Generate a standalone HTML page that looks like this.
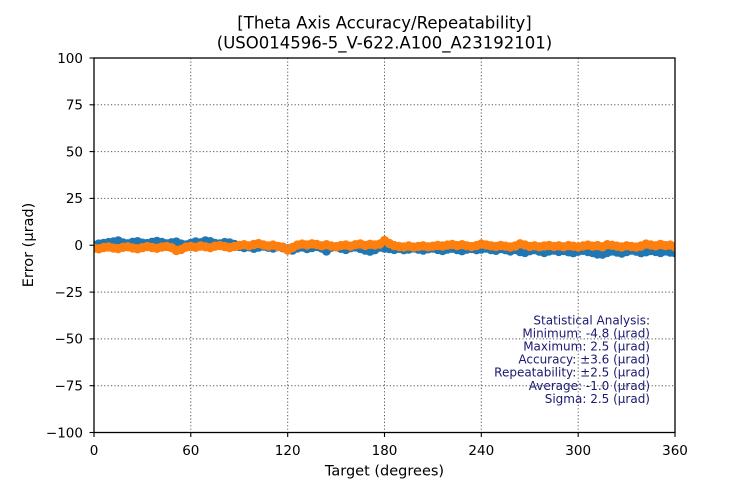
<!DOCTYPE html>
<html>
<head>
<meta charset="utf-8">
<style>
html,body{margin:0;padding:0;background:#fff;}
svg{display:block;}
text{font-family:"DejaVu Sans","Liberation Sans",sans-serif;}
</style>
</head>
<body>
<svg width="750" height="485" viewBox="0 0 750 485" xmlns="http://www.w3.org/2000/svg">
<defs>
<clipPath id="c"><rect x="94" y="58" width="581" height="374.5"/></clipPath>
</defs>
<rect width="750" height="485" fill="#fff"/>
<text x="384.5" y="28.5" font-size="16.5" text-anchor="middle" fill="#000">[Theta Axis Accuracy/Repeatability]</text>
<text x="384.5" y="48.5" font-size="16.5" text-anchor="middle" fill="#000">(USO014596-5_V-622.A100_A23192101)</text>

<g stroke="#555" stroke-width="1" stroke-dasharray="1.2,2.2" fill="none">
<line x1="190.8" y1="58" x2="190.8" y2="432.5"/>
<line x1="287.7" y1="58" x2="287.7" y2="432.5"/>
<line x1="384.5" y1="58" x2="384.5" y2="432.5"/>
<line x1="481.3" y1="58" x2="481.3" y2="432.5"/>
<line x1="578.2" y1="58" x2="578.2" y2="432.5"/>
<line x1="94" y1="104.8" x2="675" y2="104.8"/>
<line x1="94" y1="151.6" x2="675" y2="151.6"/>
<line x1="94" y1="198.4" x2="675" y2="198.4"/>
<line x1="94" y1="245.25" x2="675" y2="245.25"/>
<line x1="94" y1="292.1" x2="675" y2="292.1"/>
<line x1="94" y1="338.9" x2="675" y2="338.9"/>
<line x1="94" y1="385.7" x2="675" y2="385.7"/>
</g>

<g clip-path="url(#c)">
<polyline fill="none" stroke="#1f77b4" stroke-width="1.5" points="94.0,245.3 98.8,244.1 103.7,243.4 108.5,242.6 113.4,241.9 118.2,240.9 123.1,243.0 127.9,243.8 132.7,242.3 137.6,241.7 142.4,243.2 147.3,243.6 152.1,242.3 156.9,241.5 161.8,242.4 166.6,243.8 171.5,242.8 176.3,242.1 181.2,244.1 186.0,244.9 190.8,243.4 195.7,241.9 200.5,242.8 205.4,240.9 210.2,241.7 215.0,243.4 219.9,243.9 224.7,242.6 229.6,243.0 234.4,244.5 239.3,246.4 244.1,247.5 248.9,246.8 253.8,248.3 258.6,247.1 263.5,246.0 268.3,247.3 273.1,248.1 278.0,246.6 282.8,247.7 287.7,249.0 292.5,250.1 297.4,247.9 302.2,246.9 307.0,248.6 311.9,247.5 316.7,246.4 321.6,247.9 326.4,250.9 331.2,247.3 336.1,246.8 340.9,248.3 345.8,249.4 350.6,247.7 355.5,246.9 360.3,248.4 365.1,250.1 370.0,251.2 374.8,249.7 379.7,247.1 384.5,248.1 389.3,248.6 394.2,249.4 399.0,248.3 403.9,249.7 408.7,249.0 413.6,247.9 418.4,249.2 423.2,250.1 428.1,248.8 432.9,248.1 437.8,249.4 442.6,250.5 447.4,249.0 452.3,248.3 457.1,249.6 462.0,250.7 466.8,249.2 471.7,248.4 476.5,249.7 481.3,249.0 486.2,248.1 491.0,249.6 495.9,250.3 500.7,248.6 505.5,249.7 510.4,250.9 515.2,249.4 520.1,251.6 524.9,252.4 529.8,250.7 534.6,249.7 539.4,251.2 544.3,252.4 549.1,250.9 554.0,250.1 558.8,251.4 563.6,250.5 568.5,251.8 573.3,252.7 578.2,251.2 583.0,250.3 587.9,251.6 592.7,252.6 597.5,253.9 602.4,254.2 607.2,252.4 612.1,250.9 616.9,252.0 621.7,253.1 626.6,251.6 631.4,250.1 636.3,251.2 641.1,252.7 646.0,251.8 650.8,250.5 655.6,251.4 660.5,252.6 665.3,250.9 670.2,252.0 675.0,252.7"/>
<g fill="#1f77b4">
<circle cx="94.0" cy="245.3" r="4.7"/><circle cx="98.8" cy="244.1" r="4.7"/><circle cx="103.7" cy="243.4" r="4.7"/><circle cx="108.5" cy="242.6" r="4.7"/><circle cx="113.4" cy="241.9" r="4.7"/><circle cx="118.2" cy="240.9" r="4.7"/><circle cx="123.1" cy="243.0" r="4.7"/><circle cx="127.9" cy="243.8" r="4.7"/><circle cx="132.7" cy="242.3" r="4.7"/><circle cx="137.6" cy="241.7" r="4.7"/><circle cx="142.4" cy="243.2" r="4.7"/><circle cx="147.3" cy="243.6" r="4.7"/><circle cx="152.1" cy="242.3" r="4.7"/><circle cx="156.9" cy="241.5" r="4.7"/><circle cx="161.8" cy="242.4" r="4.7"/><circle cx="166.6" cy="243.8" r="4.7"/><circle cx="171.5" cy="242.8" r="4.7"/><circle cx="176.3" cy="242.1" r="4.7"/><circle cx="181.2" cy="244.1" r="4.7"/><circle cx="186.0" cy="244.9" r="4.7"/><circle cx="190.8" cy="243.4" r="4.7"/><circle cx="195.7" cy="241.9" r="4.7"/><circle cx="200.5" cy="242.8" r="4.7"/><circle cx="205.4" cy="240.9" r="4.7"/><circle cx="210.2" cy="241.7" r="4.7"/><circle cx="215.0" cy="243.4" r="4.7"/><circle cx="219.9" cy="243.9" r="4.7"/><circle cx="224.7" cy="242.6" r="4.7"/><circle cx="229.6" cy="243.0" r="4.7"/><circle cx="234.4" cy="244.5" r="4.7"/><circle cx="239.3" cy="246.4" r="4.7"/><circle cx="244.1" cy="247.5" r="4.7"/><circle cx="248.9" cy="246.8" r="4.7"/><circle cx="253.8" cy="248.3" r="4.7"/><circle cx="258.6" cy="247.1" r="4.7"/><circle cx="263.5" cy="246.0" r="4.7"/><circle cx="268.3" cy="247.3" r="4.7"/><circle cx="273.1" cy="248.1" r="4.7"/><circle cx="278.0" cy="246.6" r="4.7"/><circle cx="282.8" cy="247.7" r="4.7"/><circle cx="287.7" cy="249.0" r="4.7"/><circle cx="292.5" cy="250.1" r="4.7"/><circle cx="297.4" cy="247.9" r="4.7"/><circle cx="302.2" cy="246.9" r="4.7"/><circle cx="307.0" cy="248.6" r="4.7"/><circle cx="311.9" cy="247.5" r="4.7"/><circle cx="316.7" cy="246.4" r="4.7"/><circle cx="321.6" cy="247.9" r="4.7"/><circle cx="326.4" cy="250.9" r="4.7"/><circle cx="331.2" cy="247.3" r="4.7"/><circle cx="336.1" cy="246.8" r="4.7"/><circle cx="340.9" cy="248.3" r="4.7"/><circle cx="345.8" cy="249.4" r="4.7"/><circle cx="350.6" cy="247.7" r="4.7"/><circle cx="355.5" cy="246.9" r="4.7"/><circle cx="360.3" cy="248.4" r="4.7"/><circle cx="365.1" cy="250.1" r="4.7"/><circle cx="370.0" cy="251.2" r="4.7"/><circle cx="374.8" cy="249.7" r="4.7"/><circle cx="379.7" cy="247.1" r="4.7"/><circle cx="384.5" cy="248.1" r="4.7"/><circle cx="389.3" cy="248.6" r="4.7"/><circle cx="394.2" cy="249.4" r="4.7"/><circle cx="399.0" cy="248.3" r="4.7"/><circle cx="403.9" cy="249.7" r="4.7"/><circle cx="408.7" cy="249.0" r="4.7"/><circle cx="413.6" cy="247.9" r="4.7"/><circle cx="418.4" cy="249.2" r="4.7"/><circle cx="423.2" cy="250.1" r="4.7"/><circle cx="428.1" cy="248.8" r="4.7"/><circle cx="432.9" cy="248.1" r="4.7"/><circle cx="437.8" cy="249.4" r="4.7"/><circle cx="442.6" cy="250.5" r="4.7"/><circle cx="447.4" cy="249.0" r="4.7"/><circle cx="452.3" cy="248.3" r="4.7"/><circle cx="457.1" cy="249.6" r="4.7"/><circle cx="462.0" cy="250.7" r="4.7"/><circle cx="466.8" cy="249.2" r="4.7"/><circle cx="471.7" cy="248.4" r="4.7"/><circle cx="476.5" cy="249.7" r="4.7"/><circle cx="481.3" cy="249.0" r="4.7"/><circle cx="486.2" cy="248.1" r="4.7"/><circle cx="491.0" cy="249.6" r="4.7"/><circle cx="495.9" cy="250.3" r="4.7"/><circle cx="500.7" cy="248.6" r="4.7"/><circle cx="505.5" cy="249.7" r="4.7"/><circle cx="510.4" cy="250.9" r="4.7"/><circle cx="515.2" cy="249.4" r="4.7"/><circle cx="520.1" cy="251.6" r="4.7"/><circle cx="524.9" cy="252.4" r="4.7"/><circle cx="529.8" cy="250.7" r="4.7"/><circle cx="534.6" cy="249.7" r="4.7"/><circle cx="539.4" cy="251.2" r="4.7"/><circle cx="544.3" cy="252.4" r="4.7"/><circle cx="549.1" cy="250.9" r="4.7"/><circle cx="554.0" cy="250.1" r="4.7"/><circle cx="558.8" cy="251.4" r="4.7"/><circle cx="563.6" cy="250.5" r="4.7"/><circle cx="568.5" cy="251.8" r="4.7"/><circle cx="573.3" cy="252.7" r="4.7"/><circle cx="578.2" cy="251.2" r="4.7"/><circle cx="583.0" cy="250.3" r="4.7"/><circle cx="587.9" cy="251.6" r="4.7"/><circle cx="592.7" cy="252.6" r="4.7"/><circle cx="597.5" cy="253.9" r="4.7"/><circle cx="602.4" cy="254.2" r="4.7"/><circle cx="607.2" cy="252.4" r="4.7"/><circle cx="612.1" cy="250.9" r="4.7"/><circle cx="616.9" cy="252.0" r="4.7"/><circle cx="621.7" cy="253.1" r="4.7"/><circle cx="626.6" cy="251.6" r="4.7"/><circle cx="631.4" cy="250.1" r="4.7"/><circle cx="636.3" cy="251.2" r="4.7"/><circle cx="641.1" cy="252.7" r="4.7"/><circle cx="646.0" cy="251.8" r="4.7"/><circle cx="650.8" cy="250.5" r="4.7"/><circle cx="655.6" cy="251.4" r="4.7"/><circle cx="660.5" cy="252.6" r="4.7"/><circle cx="665.3" cy="250.9" r="4.7"/><circle cx="670.2" cy="252.0" r="4.7"/><circle cx="675.0" cy="252.7" r="4.7"/>
</g>
<polyline fill="none" stroke="#ff7f0e" stroke-width="1.5" points="94.0,248.3 98.8,248.8 103.7,247.5 108.5,246.9 113.4,248.1 118.2,248.6 123.1,247.3 127.9,246.8 132.7,247.9 137.6,248.8 142.4,247.7 147.3,246.6 152.1,247.5 156.9,248.3 161.8,247.1 166.6,246.4 171.5,247.7 176.3,250.5 181.2,249.4 186.0,247.1 190.8,246.4 195.7,247.3 200.5,246.0 205.4,246.8 210.2,247.7 215.0,246.2 219.9,245.6 224.7,246.6 229.6,247.5 234.4,246.4 239.3,245.4 244.1,244.7 248.9,245.8 253.8,244.5 258.6,243.6 263.5,244.9 268.3,246.0 273.1,245.1 278.0,246.4 282.8,247.1 287.7,250.1 292.5,247.5 297.4,245.1 302.2,244.1 307.0,244.9 311.9,243.8 316.7,244.5 321.6,245.8 326.4,244.7 331.2,246.0 336.1,246.8 340.9,245.6 345.8,244.9 350.6,246.2 355.5,244.7 360.3,243.9 365.1,245.4 370.0,244.3 374.8,244.9 379.7,244.1 384.5,240.6 389.3,243.4 394.2,245.6 399.0,246.4 403.9,246.9 408.7,246.0 413.6,247.1 418.4,246.4 423.2,245.8 428.1,246.8 432.9,246.2 437.8,245.4 442.6,246.0 447.4,245.1 452.3,244.5 457.1,245.6 462.0,244.7 466.8,245.8 471.7,246.6 476.5,245.6 481.3,244.1 486.2,244.9 491.0,245.8 495.9,246.4 500.7,245.4 505.5,246.2 510.4,246.9 515.2,246.0 520.1,243.8 524.9,244.9 529.8,246.4 534.6,245.8 539.4,246.8 544.3,246.0 549.1,245.4 554.0,246.4 558.8,245.8 563.6,246.8 568.5,245.6 573.3,246.2 578.2,246.9 583.0,246.0 587.9,245.1 592.7,246.2 597.5,245.6 602.4,246.8 607.2,244.7 612.1,245.3 616.9,246.2 621.7,246.9 626.6,245.8 631.4,246.4 636.3,247.1 641.1,246.0 646.0,244.1 650.8,244.9 655.6,245.8 660.5,244.5 665.3,245.6 670.2,245.1 675.0,246.8"/>
<g fill="#ff7f0e">
<circle cx="94.0" cy="248.3" r="4.7"/><circle cx="98.8" cy="248.8" r="4.7"/><circle cx="103.7" cy="247.5" r="4.7"/><circle cx="108.5" cy="246.9" r="4.7"/><circle cx="113.4" cy="248.1" r="4.7"/><circle cx="118.2" cy="248.6" r="4.7"/><circle cx="123.1" cy="247.3" r="4.7"/><circle cx="127.9" cy="246.8" r="4.7"/><circle cx="132.7" cy="247.9" r="4.7"/><circle cx="137.6" cy="248.8" r="4.7"/><circle cx="142.4" cy="247.7" r="4.7"/><circle cx="147.3" cy="246.6" r="4.7"/><circle cx="152.1" cy="247.5" r="4.7"/><circle cx="156.9" cy="248.3" r="4.7"/><circle cx="161.8" cy="247.1" r="4.7"/><circle cx="166.6" cy="246.4" r="4.7"/><circle cx="171.5" cy="247.7" r="4.7"/><circle cx="176.3" cy="250.5" r="4.7"/><circle cx="181.2" cy="249.4" r="4.7"/><circle cx="186.0" cy="247.1" r="4.7"/><circle cx="190.8" cy="246.4" r="4.7"/><circle cx="195.7" cy="247.3" r="4.7"/><circle cx="200.5" cy="246.0" r="4.7"/><circle cx="205.4" cy="246.8" r="4.7"/><circle cx="210.2" cy="247.7" r="4.7"/><circle cx="215.0" cy="246.2" r="4.7"/><circle cx="219.9" cy="245.6" r="4.7"/><circle cx="224.7" cy="246.6" r="4.7"/><circle cx="229.6" cy="247.5" r="4.7"/><circle cx="234.4" cy="246.4" r="4.7"/><circle cx="239.3" cy="245.4" r="4.7"/><circle cx="244.1" cy="244.7" r="4.7"/><circle cx="248.9" cy="245.8" r="4.7"/><circle cx="253.8" cy="244.5" r="4.7"/><circle cx="258.6" cy="243.6" r="4.7"/><circle cx="263.5" cy="244.9" r="4.7"/><circle cx="268.3" cy="246.0" r="4.7"/><circle cx="273.1" cy="245.1" r="4.7"/><circle cx="278.0" cy="246.4" r="4.7"/><circle cx="282.8" cy="247.1" r="4.7"/><circle cx="287.7" cy="250.1" r="4.7"/><circle cx="292.5" cy="247.5" r="4.7"/><circle cx="297.4" cy="245.1" r="4.7"/><circle cx="302.2" cy="244.1" r="4.7"/><circle cx="307.0" cy="244.9" r="4.7"/><circle cx="311.9" cy="243.8" r="4.7"/><circle cx="316.7" cy="244.5" r="4.7"/><circle cx="321.6" cy="245.8" r="4.7"/><circle cx="326.4" cy="244.7" r="4.7"/><circle cx="331.2" cy="246.0" r="4.7"/><circle cx="336.1" cy="246.8" r="4.7"/><circle cx="340.9" cy="245.6" r="4.7"/><circle cx="345.8" cy="244.9" r="4.7"/><circle cx="350.6" cy="246.2" r="4.7"/><circle cx="355.5" cy="244.7" r="4.7"/><circle cx="360.3" cy="243.9" r="4.7"/><circle cx="365.1" cy="245.4" r="4.7"/><circle cx="370.0" cy="244.3" r="4.7"/><circle cx="374.8" cy="244.9" r="4.7"/><circle cx="379.7" cy="244.1" r="4.7"/><circle cx="384.5" cy="240.6" r="4.7"/><circle cx="389.3" cy="243.4" r="4.7"/><circle cx="394.2" cy="245.6" r="4.7"/><circle cx="399.0" cy="246.4" r="4.7"/><circle cx="403.9" cy="246.9" r="4.7"/><circle cx="408.7" cy="246.0" r="4.7"/><circle cx="413.6" cy="247.1" r="4.7"/><circle cx="418.4" cy="246.4" r="4.7"/><circle cx="423.2" cy="245.8" r="4.7"/><circle cx="428.1" cy="246.8" r="4.7"/><circle cx="432.9" cy="246.2" r="4.7"/><circle cx="437.8" cy="245.4" r="4.7"/><circle cx="442.6" cy="246.0" r="4.7"/><circle cx="447.4" cy="245.1" r="4.7"/><circle cx="452.3" cy="244.5" r="4.7"/><circle cx="457.1" cy="245.6" r="4.7"/><circle cx="462.0" cy="244.7" r="4.7"/><circle cx="466.8" cy="245.8" r="4.7"/><circle cx="471.7" cy="246.6" r="4.7"/><circle cx="476.5" cy="245.6" r="4.7"/><circle cx="481.3" cy="244.1" r="4.7"/><circle cx="486.2" cy="244.9" r="4.7"/><circle cx="491.0" cy="245.8" r="4.7"/><circle cx="495.9" cy="246.4" r="4.7"/><circle cx="500.7" cy="245.4" r="4.7"/><circle cx="505.5" cy="246.2" r="4.7"/><circle cx="510.4" cy="246.9" r="4.7"/><circle cx="515.2" cy="246.0" r="4.7"/><circle cx="520.1" cy="243.8" r="4.7"/><circle cx="524.9" cy="244.9" r="4.7"/><circle cx="529.8" cy="246.4" r="4.7"/><circle cx="534.6" cy="245.8" r="4.7"/><circle cx="539.4" cy="246.8" r="4.7"/><circle cx="544.3" cy="246.0" r="4.7"/><circle cx="549.1" cy="245.4" r="4.7"/><circle cx="554.0" cy="246.4" r="4.7"/><circle cx="558.8" cy="245.8" r="4.7"/><circle cx="563.6" cy="246.8" r="4.7"/><circle cx="568.5" cy="245.6" r="4.7"/><circle cx="573.3" cy="246.2" r="4.7"/><circle cx="578.2" cy="246.9" r="4.7"/><circle cx="583.0" cy="246.0" r="4.7"/><circle cx="587.9" cy="245.1" r="4.7"/><circle cx="592.7" cy="246.2" r="4.7"/><circle cx="597.5" cy="245.6" r="4.7"/><circle cx="602.4" cy="246.8" r="4.7"/><circle cx="607.2" cy="244.7" r="4.7"/><circle cx="612.1" cy="245.3" r="4.7"/><circle cx="616.9" cy="246.2" r="4.7"/><circle cx="621.7" cy="246.9" r="4.7"/><circle cx="626.6" cy="245.8" r="4.7"/><circle cx="631.4" cy="246.4" r="4.7"/><circle cx="636.3" cy="247.1" r="4.7"/><circle cx="641.1" cy="246.0" r="4.7"/><circle cx="646.0" cy="244.1" r="4.7"/><circle cx="650.8" cy="244.9" r="4.7"/><circle cx="655.6" cy="245.8" r="4.7"/><circle cx="660.5" cy="244.5" r="4.7"/><circle cx="665.3" cy="245.6" r="4.7"/><circle cx="670.2" cy="245.1" r="4.7"/><circle cx="675.0" cy="246.8" r="4.7"/>
</g>
</g>

<rect x="94" y="58" width="581" height="374.5" fill="none" stroke="#000" stroke-width="1.3"/>

<g stroke="#000" stroke-width="1.1">
<line x1="94" y1="432.5" x2="94" y2="437"/>
<line x1="190.8" y1="432.5" x2="190.8" y2="437"/>
<line x1="287.7" y1="432.5" x2="287.7" y2="437"/>
<line x1="384.5" y1="432.5" x2="384.5" y2="437"/>
<line x1="481.3" y1="432.5" x2="481.3" y2="437"/>
<line x1="578.2" y1="432.5" x2="578.2" y2="437"/>
<line x1="675" y1="432.5" x2="675" y2="437"/>
<line x1="89.5" y1="58" x2="94" y2="58"/>
<line x1="89.5" y1="104.8" x2="94" y2="104.8"/>
<line x1="89.5" y1="151.6" x2="94" y2="151.6"/>
<line x1="89.5" y1="198.4" x2="94" y2="198.4"/>
<line x1="89.5" y1="245.25" x2="94" y2="245.25"/>
<line x1="89.5" y1="292.1" x2="94" y2="292.1"/>
<line x1="89.5" y1="338.9" x2="94" y2="338.9"/>
<line x1="89.5" y1="385.7" x2="94" y2="385.7"/>
<line x1="89.5" y1="432.5" x2="94" y2="432.5"/>
</g>

<g font-size="13.5" fill="#000" text-anchor="middle">
<text x="94" y="455">0</text>
<text x="190.8" y="455">60</text>
<text x="287.7" y="455">120</text>
<text x="384.5" y="455">180</text>
<text x="481.3" y="455">240</text>
<text x="578.2" y="455">300</text>
<text x="675" y="455">360</text>
</g>
<g font-size="13.5" fill="#000" text-anchor="end">
<text x="83" y="62.8">100</text>
<text x="83" y="109.6">75</text>
<text x="83" y="156.4">50</text>
<text x="83" y="203.2">25</text>
<text x="83" y="250.1">0</text>
<text x="83" y="296.9">−25</text>
<text x="83" y="343.7">−50</text>
<text x="83" y="390.5">−75</text>
<text x="83" y="437.3">−100</text>
</g>

<text x="384.5" y="475.5" font-size="14.5" text-anchor="middle" fill="#000">Target (degrees)</text>
<text transform="translate(33,245) rotate(-90)" font-size="14.5" text-anchor="middle" fill="#000">Error (µrad)</text>

<g font-size="12" fill="#191970" text-anchor="end">
<text x="650" y="324.3">Statistical Analysis:</text>
<text x="650" y="337.4">Minimum: -4.8 (µrad)</text>
<text x="650" y="350.5">Maximum: 2.5 (µrad)</text>
<text x="650" y="363.6">Accuracy: ±3.6 (µrad)</text>
<text x="650" y="376.7">Repeatability: ±2.5 (µrad)</text>
<text x="650" y="389.8">Average: -1.0 (µrad)</text>
<text x="650" y="402.9">Sigma: 2.5 (µrad)</text>
</g>
</svg>
</body>
</html>
